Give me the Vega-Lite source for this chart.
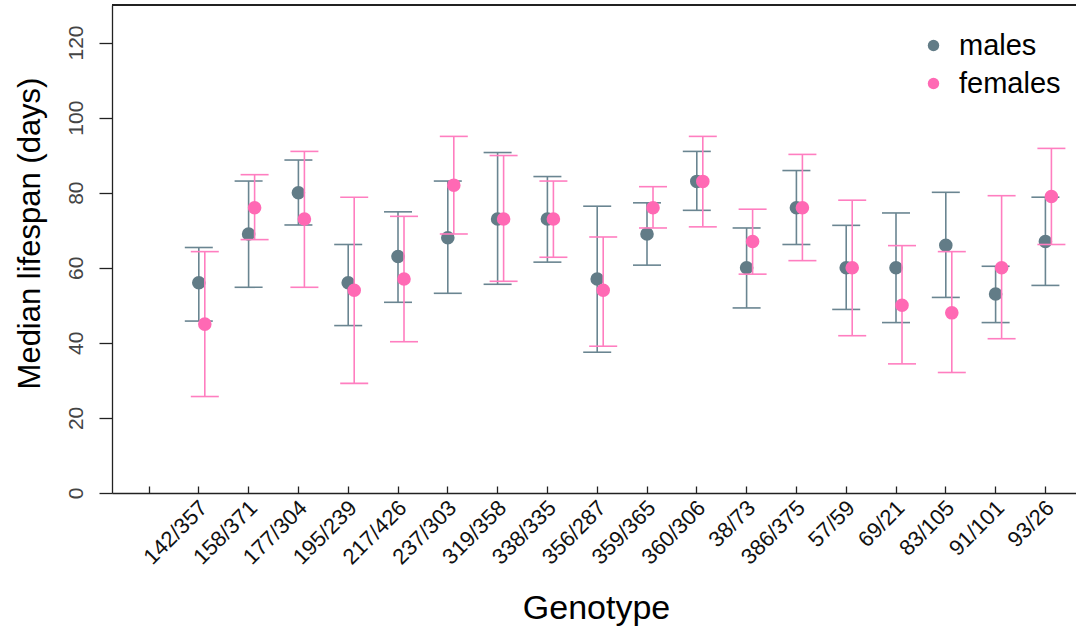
{
  "$schema": "https://vega.github.io/schema/vega-lite/v6.json",
  "width": 964,
  "height": 488,
  "autosize": {"type": "none"},
  "padding": {"left": 112, "top": 5, "right": 0, "bottom": 139},
  "background": "white",
  "config": {
    "view": {"stroke": null},
    "font": "Liberation Sans",
    "axis": {"grid": false, "domainColor": "#222", "tickColor": "#222", "domainWidth": 1.3, "tickWidth": 1.3}
  },
  "data": {"values": [
    {"genotype": "142/357", "sex": "males", "median": 56, "lower": 45.8, "upper": 65.4},
    {"genotype": "158/371", "sex": "males", "median": 69, "lower": 54.8, "upper": 83.1},
    {"genotype": "177/304", "sex": "males", "median": 80, "lower": 71.4, "upper": 88.7},
    {"genotype": "195/239", "sex": "males", "median": 56, "lower": 44.6, "upper": 66.2},
    {"genotype": "217/426", "sex": "males", "median": 63, "lower": 50.8, "upper": 74.9},
    {"genotype": "237/303", "sex": "males", "median": 68, "lower": 53.2, "upper": 83.1},
    {"genotype": "319/358", "sex": "males", "median": 73, "lower": 55.6, "upper": 90.7},
    {"genotype": "338/335", "sex": "males", "median": 73, "lower": 61.5, "upper": 84.3},
    {"genotype": "356/287", "sex": "males", "median": 57, "lower": 37.5, "upper": 76.4},
    {"genotype": "359/365", "sex": "males", "median": 69, "lower": 60.7, "upper": 77.3},
    {"genotype": "360/306", "sex": "males", "median": 83, "lower": 75.3, "upper": 91.0},
    {"genotype": "38/73", "sex": "males", "median": 60, "lower": 49.3, "upper": 70.6},
    {"genotype": "386/375", "sex": "males", "median": 76, "lower": 66.2, "upper": 85.9},
    {"genotype": "57/59", "sex": "males", "median": 60, "lower": 48.9, "upper": 71.3},
    {"genotype": "69/21", "sex": "males", "median": 60, "lower": 45.4, "upper": 74.6},
    {"genotype": "83/105", "sex": "males", "median": 66, "lower": 52.1, "upper": 80.1},
    {"genotype": "91/101", "sex": "males", "median": 53, "lower": 45.4, "upper": 60.4},
    {"genotype": "93/26", "sex": "males", "median": 67, "lower": 55.3, "upper": 78.8},
    {"genotype": "142/357", "sex": "females", "median": 45, "lower": 25.7, "upper": 64.3},
    {"genotype": "158/371", "sex": "females", "median": 76, "lower": 67.5, "upper": 84.8},
    {"genotype": "177/304", "sex": "females", "median": 73, "lower": 54.8, "upper": 91.0},
    {"genotype": "195/239", "sex": "females", "median": 54, "lower": 29.2, "upper": 78.8},
    {"genotype": "217/426", "sex": "females", "median": 57, "lower": 40.3, "upper": 73.7},
    {"genotype": "237/303", "sex": "females", "median": 82, "lower": 69.0, "upper": 95.0},
    {"genotype": "319/358", "sex": "females", "median": 73, "lower": 56.4, "upper": 89.9},
    {"genotype": "338/335", "sex": "females", "median": 73, "lower": 62.8, "upper": 83.1},
    {"genotype": "356/287", "sex": "females", "median": 54, "lower": 39.1, "upper": 68.2},
    {"genotype": "359/365", "sex": "females", "median": 76, "lower": 70.6, "upper": 81.6},
    {"genotype": "360/306", "sex": "females", "median": 83, "lower": 70.9, "upper": 95.0},
    {"genotype": "38/73", "sex": "females", "median": 67, "lower": 58.3, "upper": 75.6},
    {"genotype": "386/375", "sex": "females", "median": 76, "lower": 61.9, "upper": 90.2},
    {"genotype": "57/59", "sex": "females", "median": 60, "lower": 41.9, "upper": 78.0},
    {"genotype": "69/21", "sex": "females", "median": 50, "lower": 34.4, "upper": 65.9},
    {"genotype": "83/105", "sex": "females", "median": 48, "lower": 32.1, "upper": 64.3},
    {"genotype": "91/101", "sex": "females", "median": 60, "lower": 41.1, "upper": 79.2},
    {"genotype": "93/26", "sex": "females", "median": 79, "lower": 66.2, "upper": 91.8}
  ]},
  "encoding": {
    "x": {
      "field": "genotype", "type": "nominal",
      "scale": {"type": "band", "domain": ["", "142/357", "158/371", "177/304", "195/239", "217/426", "237/303", "319/358", "338/335", "356/287", "359/365", "360/306", "38/73", "386/375", "57/59", "69/21", "83/105", "91/101", "93/26"], "paddingInner": 0, "paddingOuter": 0.1787, "align": 0.68},
      "axis": {
        "title": "Genotype", "titleFontSize": 34, "titleFontWeight": "normal", "titleColor": "#000",
        "titleX": 484, "titleY": 125, "titleAlign": "center", "titleBaseline": "alphabetic", "titleAnchor": null,
        "tickSize": -7, "labelAngle": 315, "labelAlign": "right", "labelBaseline": "middle",
        "labelFontSize": 22, "labelColor": "#111", "labelPadding": 18, "labelOffset": 5, "labelOverlap": false, "labelLimit": 0
      }
    },
    "y": {
      "type": "quantitative",
      "scale": {"domain": [0, 130], "nice": false, "zero": true},
      "axis": {
        "title": "Median lifespan (days)", "titleFontSize": 31, "titleFontWeight": "normal", "titleColor": "#000",
        "titleAngle": 270, "titleX": -82, "titleY": 228, "titleAlign": "center", "titleBaseline": "middle", "titleAnchor": null,
        "values": [0, 20, 40, 60, 80, 100, 120], "tickSize": 13,
        "labelAngle": 270, "labelAlign": "center", "labelBaseline": "alphabetic",
        "labelFontSize": 21, "labelColor": "#444", "labelPadding": 17
      }
    }
  },
  "layer": [
    {"mark": {"type": "rule", "color": "#222", "strokeWidth": 1.3}, "encoding": {"x": null, "y": {"datum": 130}}},
    {"transform": [{"filter": "datum.sex === 'males'"}], "mark": {"type": "rule", "color": "#6a8591", "strokeWidth": 1.6, "opacity": 1}, "encoding": {"y": {"field": "lower"}, "y2": {"field": "upper"}}},
    {"transform": [{"filter": "datum.sex === 'males'"}], "mark": {"type": "tick", "color": "#6a8591", "size": 28, "thickness": 1.6, "opacity": 1}, "encoding": {"y": {"field": "lower"}}},
    {"transform": [{"filter": "datum.sex === 'males'"}], "mark": {"type": "tick", "color": "#6a8591", "size": 28, "thickness": 1.6, "opacity": 1}, "encoding": {"y": {"field": "upper"}}},
    {"transform": [{"filter": "datum.sex === 'males'"}], "mark": {"type": "point", "filled": true, "shape": "circle", "size": 185, "opacity": 1}, "encoding": {"y": {"field": "median"}, "color": {"field": "sex", "type": "nominal", "scale": {"domain": ["males", "females"], "range": ["#627c87", "#ff69b4"]}, "legend": {"title": null, "orient": "none", "legendX": 807, "legendY": 26, "padding": 0, "labelFontSize": 29, "labelColor": "#000", "symbolSize": 130, "symbolType": "circle", "symbolStrokeWidth": 0, "rowPadding": 8, "labelOffset": 11}}}},
    {"transform": [{"filter": "datum.sex === 'females'"}], "mark": {"type": "rule", "color": "#ff7ec0", "strokeWidth": 1.6, "opacity": 1, "xOffset": 6}, "encoding": {"y": {"field": "lower"}, "y2": {"field": "upper"}}},
    {"transform": [{"filter": "datum.sex === 'females'"}], "mark": {"type": "tick", "color": "#ff7ec0", "size": 28, "thickness": 1.6, "opacity": 1, "xOffset": 6}, "encoding": {"y": {"field": "lower"}}},
    {"transform": [{"filter": "datum.sex === 'females'"}], "mark": {"type": "tick", "color": "#ff7ec0", "size": 28, "thickness": 1.6, "opacity": 1, "xOffset": 6}, "encoding": {"y": {"field": "upper"}}},
    {"transform": [{"filter": "datum.sex === 'females'"}], "mark": {"type": "point", "filled": true, "shape": "circle", "size": 185, "opacity": 1, "xOffset": 6}, "encoding": {"y": {"field": "median"}, "color": {"field": "sex", "type": "nominal"}}}
  ]
}
